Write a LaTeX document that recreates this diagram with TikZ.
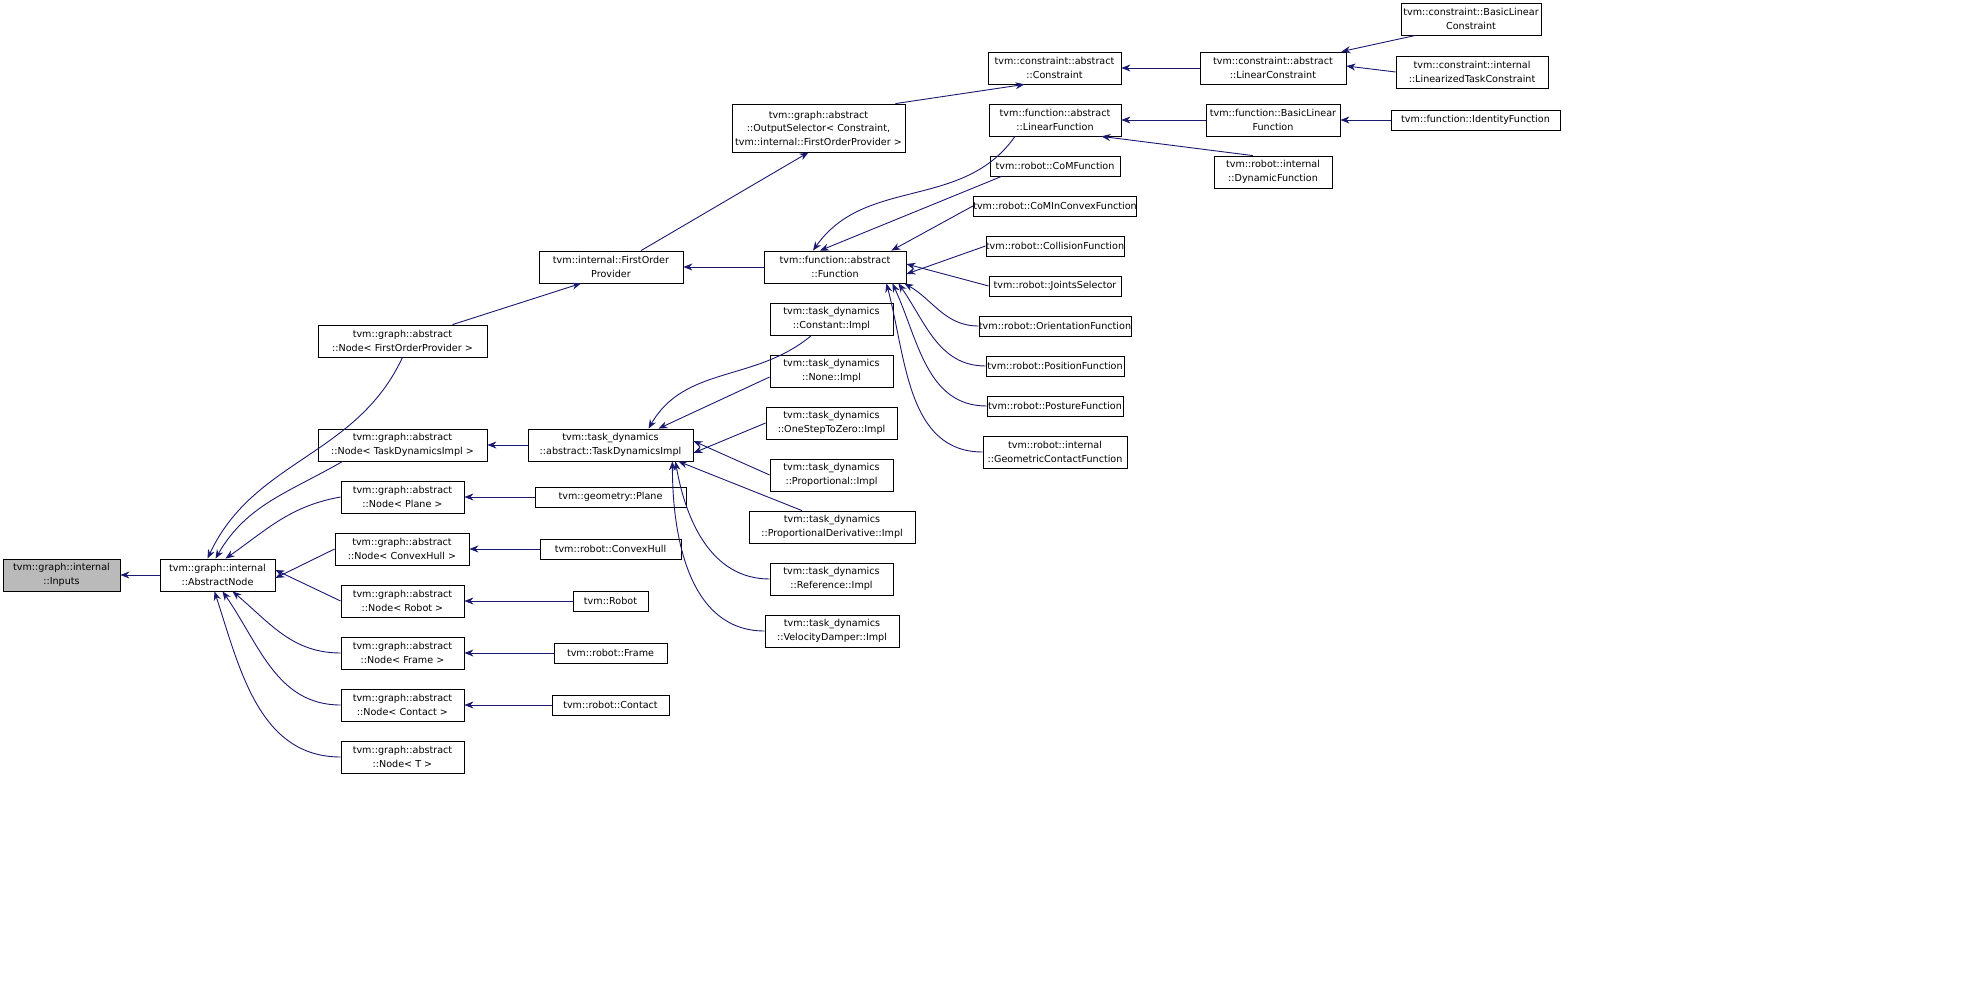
\documentclass[tikz,border=0pt]{standalone}
\usepackage{fontspec}
\setmainfont{DejaVu Sans}
\usetikzlibrary{arrows.meta}
\tikzset{
 box/.style={draw=black,line width=0.8pt,fill=white,inner sep=0pt,align=center,font=\fontsize{9.6}{13.5}\selectfont},
 e/.style={{Stealth[length=9pt,width=7pt]}-,draw=edgec,fill=none,line width=0.9pt},
}
\definecolor{edgec}{HTML}{191970}
\newcommand\bx[6]{\node[box,minimum width={(#4-#2)*1pt},minimum height={(#5-#3)*1pt}] (#1) at ({(#2+#4)/2},{(#3+#5)/2}) {#6};}
\begin{document}
\begin{tikzpicture}[x=1pt,y=-1pt]
\useasboundingbox (0,0) rectangle (1988,981);
\node[box,fill=black!27,minimum width=117pt,minimum height=32pt] (in) at (61.5,575) {tvm::graph::internal\\::Inputs};
\bx{an}{160}{559}{275}{591}{tvm::graph::internal\\::AbstractNode}
\bx{n3}{318}{325}{487}{357}{tvm::graph::abstract\\::Node< FirstOrderProvider >}
\bx{n4}{318}{429}{487}{461}{tvm::graph::abstract\\::Node< TaskDynamicsImpl >}
\bx{n5}{341}{481}{464}{513}{tvm::graph::abstract\\::Node< Plane >}
\bx{n6}{335}{533}{469}{565}{tvm::graph::abstract\\::Node< ConvexHull >}
\bx{n7}{341}{585}{464}{617}{tvm::graph::abstract\\::Node< Robot >}
\bx{n8}{341}{637}{464}{669}{tvm::graph::abstract\\::Node< Frame >}
\bx{n9}{341}{689}{464}{721}{tvm::graph::abstract\\::Node< Contact >}
\bx{n10}{341}{741}{464}{773}{tvm::graph::abstract\\::Node< T >}
\bx{n11}{539}{251}{683}{283}{tvm::internal::FirstOrder\\Provider}
\bx{n12}{732}{104}{905}{152}{tvm::graph::abstract\\::OutputSelector< Constraint,\\ tvm::internal::FirstOrderProvider >}
\bx{n13}{988}{52}{1121}{84}{tvm::constraint::abstract\\::Constraint}
\bx{n14}{1200}{52}{1346}{84}{tvm::constraint::abstract\\::LinearConstraint}
\bx{n15}{1401}{3}{1541}{35}{tvm::constraint::BasicLinear\\Constraint}
\bx{n16}{1396}{56}{1548}{88}{tvm::constraint::internal\\::LinearizedTaskConstraint}
\bx{n17}{764}{251}{906}{283}{tvm::function::abstract\\::Function}
\bx{n18}{989}{104}{1121}{136}{tvm::function::abstract\\::LinearFunction}
\bx{n19}{990}{156}{1120}{176}{tvm::robot::CoMFunction}
\bx{n20}{982}{196}{1128}{216}{tvm::robot::CoMInConvexFunction}
\bx{n21}{986}{236}{1124}{256}{tvm::robot::CollisionFunction}
\bx{n22}{989}{276}{1121}{296}{tvm::robot::JointsSelector}
\bx{n23}{982}{316}{1128}{336}{tvm::robot::OrientationFunction}
\bx{n24}{986}{356}{1124}{376}{tvm::robot::PositionFunction}
\bx{n25}{987}{396}{1123}{416}{tvm::robot::PostureFunction}
\bx{n26}{983}{436}{1127}{468}{tvm::robot::internal\\::GeometricContactFunction}
\bx{n27}{1206}{104}{1340}{136}{tvm::function::BasicLinear\\Function}
\bx{n28}{1214}{156}{1332}{188}{tvm::robot::internal\\::DynamicFunction}
\bx{n29}{1391}{110}{1560}{130}{tvm::function::IdentityFunction}
\bx{n30}{528}{429}{693}{461}{tvm::task\_dynamics\\::abstract::TaskDynamicsImpl}
\bx{n31}{770}{303}{893}{335}{tvm::task\_dynamics\\::Constant::Impl}
\bx{n32}{770}{355}{893}{387}{tvm::task\_dynamics\\::None::Impl}
\bx{n33}{766}{407}{897}{439}{tvm::task\_dynamics\\::OneStepToZero::Impl}
\bx{n34}{770}{459}{893}{491}{tvm::task\_dynamics\\::Proportional::Impl}
\bx{n35}{749}{511}{915}{543}{tvm::task\_dynamics\\::ProportionalDerivative::Impl}
\bx{n36}{770}{563}{893}{595}{tvm::task\_dynamics\\::Reference::Impl}
\bx{n37}{765}{615}{899}{647}{tvm::task\_dynamics\\::VelocityDamper::Impl}
\bx{n38}{535}{487}{686}{507}{tvm::geometry::Plane}
\bx{n39}{540}{539}{681}{559}{tvm::robot::ConvexHull}
\bx{n40}{573}{591}{648}{611}{tvm::Robot}
\bx{n41}{554}{643}{667}{663}{tvm::robot::Frame}
\bx{n42}{552}{695}{669}{715}{tvm::robot::Contact}
% edges
\draw[e] (in.east) -- (an.west);
\draw[e] ([xshift=-10pt]an.north) to[out=65,in=-115] (n3.south);
\draw[e] ([xshift=-2pt]an.north) to[out=60,in=-150] ([xshift=25pt]n4.south west);
\draw[e] ([xshift=8pt]an.north) to[out=35,in=190] (n5.west);
\draw[e] ([yshift=-3pt]an.east) -- (n6.west);
\draw[e] ([yshift=5pt]an.east) -- (n7.west);
\draw[e] ([xshift=15pt]an.south) to[out=-40,in=180] (n8.west);
\draw[e] ([xshift=5pt]an.south) to[out=-55,in=180] (n9.west);
\draw[e] ([xshift=-3pt]an.south) to[out=-72,in=180] (n10.west);
\draw[e] ([xshift=-30pt]n11.south) -- ([xshift=50pt]n3.north);
\draw[e] ([xshift=-10pt]n12.south) -- ([xshift=30pt]n11.north);
\draw[e] ([xshift=-30pt]n13.south) -- ([xshift=-10pt]n12.north east);
\draw[e] (n13.east) -- (n14.west);
\draw[e] ([xshift=-5pt]n14.north east) -- ([xshift=15pt]n15.south west);
\draw[e] ([yshift=2pt]n14.east) -- (n16.west);
\draw[e] (n11.east) -- (n17.west);
\draw[e] ([xshift=-22pt]n17.north) to[out=55,in=-125] ([xshift=-40pt]n18.south);
\draw[e] ([xshift=-15pt]n17.north) -- ([xshift=12pt]n19.south west);
\draw[e] ([xshift=-15pt]n17.north east) -- (n20.west);
\draw[e] ([yshift=-7pt]n17.east) -- (n21.west);
\draw[e] ([yshift=3pt]n17.east) -- (n22.west);
\draw[e] ([xshift=-2pt]n17.south east) to[out=-30,in=180] (n23.west);
\draw[e] ([xshift=-8pt]n17.south east) to[out=-55,in=180] (n24.west);
\draw[e] ([xshift=-14pt]n17.south east) to[out=-65,in=180] (n25.west);
\draw[e] ([xshift=-20pt]n17.south east) to[out=-75,in=180] (n26.west);
\draw[e] (n18.east) -- (n27.west);
\draw[e] ([xshift=-20pt]n18.south east) -- ([xshift=-20pt]n28.north);
\draw[e] (n27.east) -- (n29.west);
\draw[e] (n4.east) -- (n30.west);
\draw[e] ([xshift=38pt]n30.north) to[out=60,in=-140] ([xshift=-20pt]n31.south);
\draw[e] ([xshift=48pt]n30.north) -- ([yshift=-6pt]n32.west);
\draw[e] ([yshift=-8pt]n30.east) -- (n33.west);
\draw[e] ([yshift=4pt]n30.east) -- (n34.west);
\draw[e] ([xshift=-15pt]n30.south east) -- ([xshift=-30pt]n35.north);
\draw[e] ([xshift=-18pt]n30.south east) to[out=-80,in=180] (n36.west);
\draw[e] ([xshift=-21pt]n30.south east) to[out=-90,in=180] (n37.west);
\draw[e] (n5.east) -- (n38.west);
\draw[e] (n6.east) -- (n39.west);
\draw[e] (n7.east) -- (n40.west);
\draw[e] (n8.east) -- (n41.west);
\draw[e] (n9.east) -- (n42.west);
\end{tikzpicture}
\end{document}
